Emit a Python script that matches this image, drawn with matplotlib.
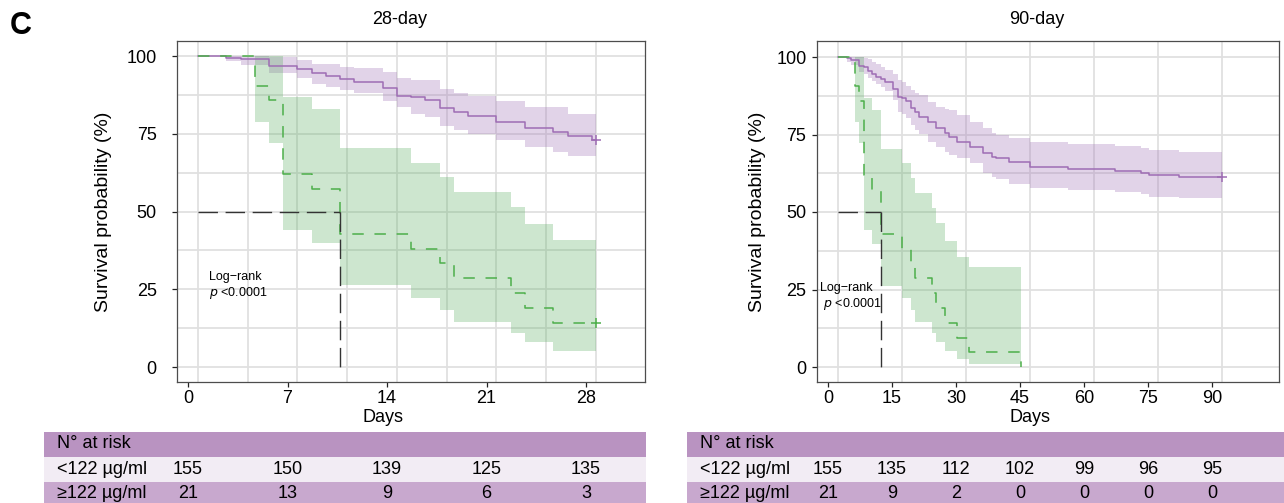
import matplotlib
matplotlib.use('Agg')
import matplotlib.pyplot as plt
import numpy as np

plt.rcParams['font.family'] = ['Liberation Sans', 'DejaVu Sans']

W, H = 1284, 503
fig = plt.figure(figsize=(W / 100, H / 100), dpi=100)
fig.patch.set_facecolor('white')

# ─── Data: 28-day panel ───
d28_days_lo = [0, 2, 3, 5, 7, 8, 9, 10, 11, 13, 14, 15, 16, 17, 18, 19, 21, 23, 25, 26, 27.7]
d28_surv_lo = [100, 99.4, 98.9, 96.9, 95.8, 94.4, 93.7, 92.5, 91.7, 89.8, 87.2, 86.7, 85.9,
               83.4, 82.1, 80.7, 78.9, 76.8, 75.6, 74.4, 73.0]
d28_upper_lo = [100, 100, 100, 99.7, 98.7, 97.3, 97.3, 96.6, 96.0, 94.8, 92.8, 92.3, 92.3,
                89.3, 88.2, 87.1, 85.5, 83.7, 83.7, 81.5, 81.5]
d28_lower_lo = [100, 98.4, 97.1, 94.4, 92.8, 90.9, 90.1, 89.1, 88.2, 85.5, 83.5, 81.5, 80.4,
                77.6, 76.2, 74.8, 73.0, 70.6, 69.2, 67.8, 67.8]

d28_days_hi = [0, 4, 5, 6, 8, 10, 15, 17, 18, 22, 23, 25]
d28_surv_hi = [100, 90.5, 85.7, 61.9, 57.1, 42.9, 38.1, 33.3, 28.6, 23.8, 19.0, 14.3]
d28_upper_hi = [100, 100, 100, 86.7, 82.8, 70.3, 65.7, 61.0, 56.2, 51.3, 46.0, 40.8]
d28_lower_hi = [100, 78.9, 72.1, 44.2, 39.8, 26.3, 22.3, 18.3, 14.6, 11.0, 7.9, 5.1]

d28_ticks = [0, 7, 14, 21, 28]
d28_risk_lo = [155, 150, 139, 125, 135]
d28_risk_hi = [21, 13, 9, 6, 3]

# ─── Data: 90-day panel ───
d90_days_lo = [0, 2, 3, 5, 6, 7, 8, 9, 10, 11, 13, 14, 15, 16, 17, 18, 19, 21, 23, 25, 26, 28,
               31, 34, 36, 37, 40, 45, 54, 65, 71, 73, 80]
d90_surv_lo = [100, 99.6, 99.0, 97.2, 96.8, 95.5, 94.4, 93.5, 92.8, 92.0, 89.6, 87.2, 86.7,
               85.9, 83.4, 82.1, 80.7, 78.9, 77.0, 75.4, 74.3, 72.5, 71.1, 68.9, 67.8, 67.3,
               66.0, 64.6, 63.9, 63.3, 62.7, 61.9, 61.4]
d90_upper_lo = [100, 100, 100, 100, 99.8, 99.2, 98.5, 97.7, 96.9, 95.8, 94.4, 92.6, 91.8,
                90.8, 89.4, 88.5, 87.7, 85.6, 84.0, 83.2, 82.9, 81.3, 79.0, 77.0, 75.6, 74.8,
                73.8, 72.7, 71.9, 71.3, 70.7, 70.0, 69.5]
d90_lower_lo = [100, 98.5, 97.5, 95.2, 94.5, 93.1, 92.3, 91.3, 90.4, 89.0, 86.1, 82.4, 81.6,
                80.3, 78.1, 76.5, 75.1, 72.7, 71.1, 69.5, 68.5, 67.3, 65.7, 62.5, 61.2, 60.6,
                58.9, 57.6, 57.1, 56.3, 55.7, 54.9, 54.4]

d90_days_hi = [0, 4, 5, 6, 8, 10, 15, 17, 18, 22, 23, 25, 28, 30.7, 43]
d90_surv_hi = [100, 90.5, 85.7, 61.9, 57.1, 42.9, 38.1, 33.3, 28.6, 23.8, 19.0, 14.3, 9.5, 4.8, 0]
d90_upper_hi = [100, 100, 100, 86.7, 82.8, 70.3, 65.7, 61.0, 56.2, 51.3, 46.4, 40.7, 35.6, 32.2]
d90_lower_hi = [100, 78.9, 72.1, 44.2, 39.8, 26.2, 22.1, 18.4, 14.6, 11.1, 8.2, 5.3, 2.5, 1.0]

d90_ticks = [0, 15, 30, 45, 60, 75, 90]
d90_risk_lo = [155, 135, 112, 102, 99, 96, 95]
d90_risk_hi = [21, 9, 2, 0, 0, 0, 0]

group_labels = ['<122 \u00b5g/ml', '\u2265122 \u00b5g/ml']

# ─── Colours ───
purple = '#9E6DB4'
green = '#4DAF4A'
purple_band = '#9E6FB5'
green_band = '#5AAE61'
grid_col = '#E0E0E0'
spine_col = '#4D4D4D'
head_col = '#B993C1'
row1_col = '#F2ECF4'
row2_col = '#C8A8CE'

FS = 13


def px_axes(x0, y0, x1, y1):
    return fig.add_axes([x0 / W, (H - y1) / H, (x1 - x0) / W, (y1 - y0) / H])


def draw_km(ax, days, surv, upper, lower, end, color, band_color, ls, censor):
    nb = len(upper)
    band_end = days[nb] if nb < len(days) else end
    bx = list(days[:nb]) + [band_end]
    ax.fill_between(bx, list(upper) + [upper[-1]], list(lower) + [lower[-1]],
                    step='post', color=band_color, alpha=0.3, lw=0, zorder=2)
    ax.step(list(days) + [end], list(surv) + [surv[-1]], where='post',
            color=color, lw=1.1, linestyle=ls, zorder=3)
    if censor:
        ax.plot([end], [surv[-1]], marker='+', color=color, ms=7, mew=1.1, zorder=4)


def setup_panel(px, day0_px, px_per_day, y0_px, px_per_pct, ticks, tick_shift,
                grid_x, title, title_px, ylab_pad):
    ax = px_axes(*px)
    x0, y0, x1, y1 = px
    ax.set_xlim((x0 - day0_px) / px_per_day, (x1 - day0_px) / px_per_day)
    ax.set_ylim((y0_px - y1) / px_per_pct, (y0_px - y0) / px_per_pct)
    ax.set_axisbelow(True)
    ax.set_xticks([t - tick_shift for t in ticks])
    ax.set_xticklabels([str(t) for t in ticks])
    ax.set_yticks([0, 25, 50, 75, 100])
    ax.grid(False)
    for gx in grid_x:
        ax.axvline(gx, color=grid_col, lw=1.3, zorder=0)
    for gy in np.arange(0, 101, 12.5):
        ax.axhline(gy, color=grid_col, lw=1.3, zorder=0)
    ax.tick_params(axis='y', length=3.6, width=0.9, color='#222222',
                   labelsize=FS, pad=ylab_pad)
    ax.tick_params(axis='x', length=3.6, width=0.9, color='#222222',
                   labelsize=FS, pad=2)
    for s in ax.spines.values():
        s.set_color(spine_col)
        s.set_linewidth(0.9)
    ax.set_ylabel('Survival probability (%)', fontsize=14)
    ax.set_xlabel('Days', fontsize=FS)
    ax.xaxis.label.set_va('center')
    ax.text((title_px - x0) / (x1 - x0), (y1 - 19) / (y1 - y0), title,
            transform=ax.transAxes, ha='center', va='center', fontsize=FS)
    return ax


# ─── Left panel: 28-day ───
ax1 = setup_panel((177, 41, 645, 382), 198, 398 / 28, 367, 3.11, d28_ticks, 0.7,
                  np.arange(0, 31.6, 3.5), '28-day', 400, 11)
ax1.xaxis.set_label_coords((383 - 177) / 468, (382 - 417) / 341)
ax1.yaxis.set_label_coords((112 - 177) / 468, 0.5)
draw_km(ax1, d28_days_lo, d28_surv_lo, d28_upper_lo, d28_lower_lo, 28,
        purple, purple_band, '-', True)
draw_km(ax1, d28_days_hi, d28_surv_hi, d28_upper_hi, d28_lower_hi, 28,
        green, green_band, (0, (7.5, 7.0)), True)
ax1.plot([0, 10], [50, 50], color='#333333', lw=1.0, ls=(0, (14, 5.5)), zorder=3)
ax1.plot([10, 10], [50, 0], color='#333333', lw=1.0, ls=(0, (14, 5.5)), zorder=3)
ax1.text(0.77, 26.0, 'Log\u2212rank\n$p$ <0.0001', fontsize=9, ha='left', va='center',
         linespacing=1.15, zorder=5)

# ─── Right panel: 90-day ───
ax2 = setup_panel((817, 41, 1279, 382), 838, 384 / 90, 367, 3.1, d90_ticks, 2.34,
                  np.arange(0, 91, 15), '90-day', 1037, 4)
ax2.xaxis.set_label_coords((1030 - 817) / 462, (382 - 417) / 341)
ax2.yaxis.set_label_coords((766 - 817) / 462, 0.5)
draw_km(ax2, d90_days_lo, d90_surv_lo, d90_upper_lo, d90_lower_lo, 90,
        purple, purple_band, '-', True)
draw_km(ax2, d90_days_hi, d90_surv_hi, d90_upper_hi, d90_lower_hi, 43,
        green, green_band, (0, (7.5, 7.0)), False)
ax2.plot([0, 10], [50, 50], color='#333333', lw=1.0, ls=(0, (14, 5.5)), zorder=3)
ax2.plot([10, 10], [50, 0], color='#333333', lw=1.0, ls=(0, (14, 5.5)), zorder=3)
ax2.text(-4.3, 22.5, 'Log\u2212rank\n $p$ <0.0001', fontsize=9, ha='left', va='center',
         linespacing=1.15, zorder=5)


# ─── Risk tables ───
def risk_table(px, day0_px, px_per_day, ticks, tick_shift, risk_lo, risk_hi):
    ax = px_axes(*px)
    x0, y0, x1, y1 = px
    ax.set_xlim((x0 - day0_px) / px_per_day, (x1 - day0_px) / px_per_day)
    ax.set_ylim(3, 0)
    ax.axis('off')
    ax.axhspan(0, 1, color=head_col, lw=0)
    ax.axhspan(1, 2, color=row1_col, lw=0)
    ax.axhspan(2, 3, color=row2_col, lw=0)
    tr = ax.get_yaxis_transform()
    lab_x = 13 / (x1 - x0)
    ax.text(lab_x, 0.45, 'N\u00b0 at risk', transform=tr, ha='left', va='center', fontsize=FS)
    ax.text(lab_x, 1.5, group_labels[0], transform=tr, ha='left', va='center', fontsize=FS)
    ax.text(lab_x, 2.45, group_labels[1], transform=tr, ha='left', va='center', fontsize=FS)
    for t, a, b in zip(ticks, risk_lo, risk_hi):
        ax.text(t - tick_shift, 1.5, str(a), ha='center', va='center', fontsize=FS)
        ax.text(t - tick_shift, 2.45, str(b), ha='center', va='center', fontsize=FS)
    return ax


risk_table((44, 432, 646, 507), 198, 398 / 28, d28_ticks, 0.7, d28_risk_lo, d28_risk_hi)
risk_table((687, 432, 1284, 507), 838, 384 / 90, d90_ticks, 2.34, d90_risk_lo, d90_risk_hi)

# ─── Panel letter ───
fig.text(21 / W, 1 - 26 / H, 'C', fontsize=22, fontweight='bold', ha='center', va='center')

fig.savefig('out.png', dpi=100, facecolor='white')
